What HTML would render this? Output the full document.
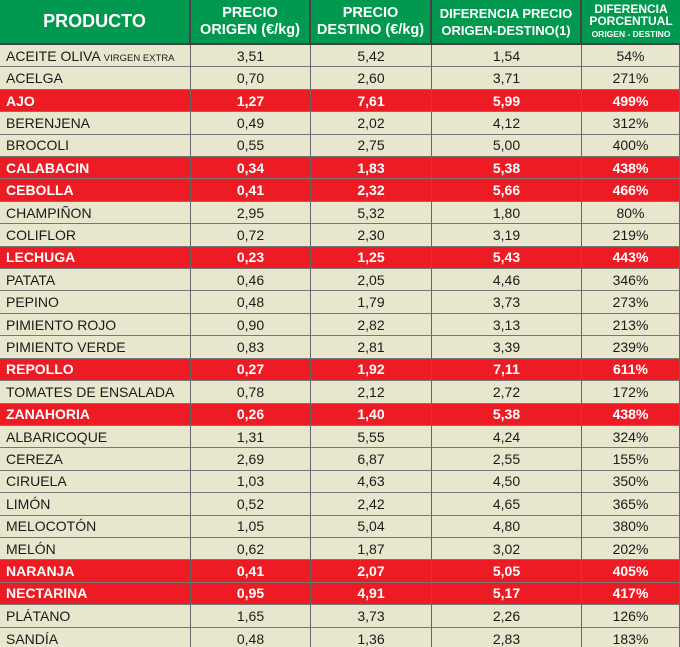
<!DOCTYPE html>
<html><head><meta charset="utf-8"><style>
body{margin:0;background:#e8e6cc;}
.t{display:grid;grid-template-columns:191px 120px 121px 150px 98px;grid-template-rows:45px repeat(26,22.42px) 23px;width:680px;height:647px;overflow:hidden;font-family:"Liberation Sans",sans-serif;}
.t>div{box-sizing:border-box;border-right:1.5px solid #666;border-bottom:1px solid #777;display:flex;align-items:center;justify-content:center;font-size:14px;color:#1a1a1a;background:#e8e6cc;white-space:nowrap;}
.t>div.l{justify-content:flex-start;padding-left:6px;}
.t>div.h{background:#00994f;color:#fff;font-weight:bold;text-align:center;font-size:14.5px;line-height:17px;border-bottom:2px solid #444;border-right:2px solid #444;}
.t>div.r{background:#ed1c24;color:#fff;font-weight:bold;}
small{font-size:9.5px;}
</style></head><body><div class="t">
<div class="h" style="font-size:18px"><span>PRODUCTO</span></div><div class="h"><span>PRECIO<br>ORIGEN (€/kg)</span></div><div class="h"><span>PRECIO<br>DESTINO (€/kg)</span></div><div class="h" style="font-size:13px"><span>DIFERENCIA PRECIO<br>ORIGEN-DESTINO(1)</span></div><div class="h" style="font-size:12px;line-height:12px;border-right:0"><span>DIFERENCIA<br>PORCENTUAL<br><span style="font-size:8.5px">ORIGEN - DESTINO</span></span></div>
<div class="l"><span>ACEITE OLIVA <small>VIRGEN EXTRA</small></span></div><div>3,51</div><div>5,42</div><div>1,54</div><div>54%</div>
<div class="l">ACELGA</div><div>0,70</div><div>2,60</div><div>3,71</div><div>271%</div>
<div class="l r">AJO</div><div class="r">1,27</div><div class="r">7,61</div><div class="r">5,99</div><div class="r">499%</div>
<div class="l">BERENJENA</div><div>0,49</div><div>2,02</div><div>4,12</div><div>312%</div>
<div class="l">BROCOLI</div><div>0,55</div><div>2,75</div><div>5,00</div><div>400%</div>
<div class="l r">CALABACIN</div><div class="r">0,34</div><div class="r">1,83</div><div class="r">5,38</div><div class="r">438%</div>
<div class="l r">CEBOLLA</div><div class="r">0,41</div><div class="r">2,32</div><div class="r">5,66</div><div class="r">466%</div>
<div class="l">CHAMPIÑON</div><div>2,95</div><div>5,32</div><div>1,80</div><div>80%</div>
<div class="l">COLIFLOR</div><div>0,72</div><div>2,30</div><div>3,19</div><div>219%</div>
<div class="l r">LECHUGA</div><div class="r">0,23</div><div class="r">1,25</div><div class="r">5,43</div><div class="r">443%</div>
<div class="l">PATATA</div><div>0,46</div><div>2,05</div><div>4,46</div><div>346%</div>
<div class="l">PEPINO</div><div>0,48</div><div>1,79</div><div>3,73</div><div>273%</div>
<div class="l">PIMIENTO ROJO</div><div>0,90</div><div>2,82</div><div>3,13</div><div>213%</div>
<div class="l">PIMIENTO VERDE</div><div>0,83</div><div>2,81</div><div>3,39</div><div>239%</div>
<div class="l r">REPOLLO</div><div class="r">0,27</div><div class="r">1,92</div><div class="r">7,11</div><div class="r">611%</div>
<div class="l">TOMATES DE ENSALADA</div><div>0,78</div><div>2,12</div><div>2,72</div><div>172%</div>
<div class="l r">ZANAHORIA</div><div class="r">0,26</div><div class="r">1,40</div><div class="r">5,38</div><div class="r">438%</div>
<div class="l">ALBARICOQUE</div><div>1,31</div><div>5,55</div><div>4,24</div><div>324%</div>
<div class="l">CEREZA</div><div>2,69</div><div>6,87</div><div>2,55</div><div>155%</div>
<div class="l">CIRUELA</div><div>1,03</div><div>4,63</div><div>4,50</div><div>350%</div>
<div class="l">LIMÓN</div><div>0,52</div><div>2,42</div><div>4,65</div><div>365%</div>
<div class="l">MELOCOTÓN</div><div>1,05</div><div>5,04</div><div>4,80</div><div>380%</div>
<div class="l">MELÓN</div><div>0,62</div><div>1,87</div><div>3,02</div><div>202%</div>
<div class="l r">NARANJA</div><div class="r">0,41</div><div class="r">2,07</div><div class="r">5,05</div><div class="r">405%</div>
<div class="l r">NECTARINA</div><div class="r">0,95</div><div class="r">4,91</div><div class="r">5,17</div><div class="r">417%</div>
<div class="l">PLÁTANO</div><div>1,65</div><div>3,73</div><div>2,26</div><div>126%</div>
<div class="l">SANDÍA</div><div>0,48</div><div>1,36</div><div>2,83</div><div>183%</div>
</div></body></html>
